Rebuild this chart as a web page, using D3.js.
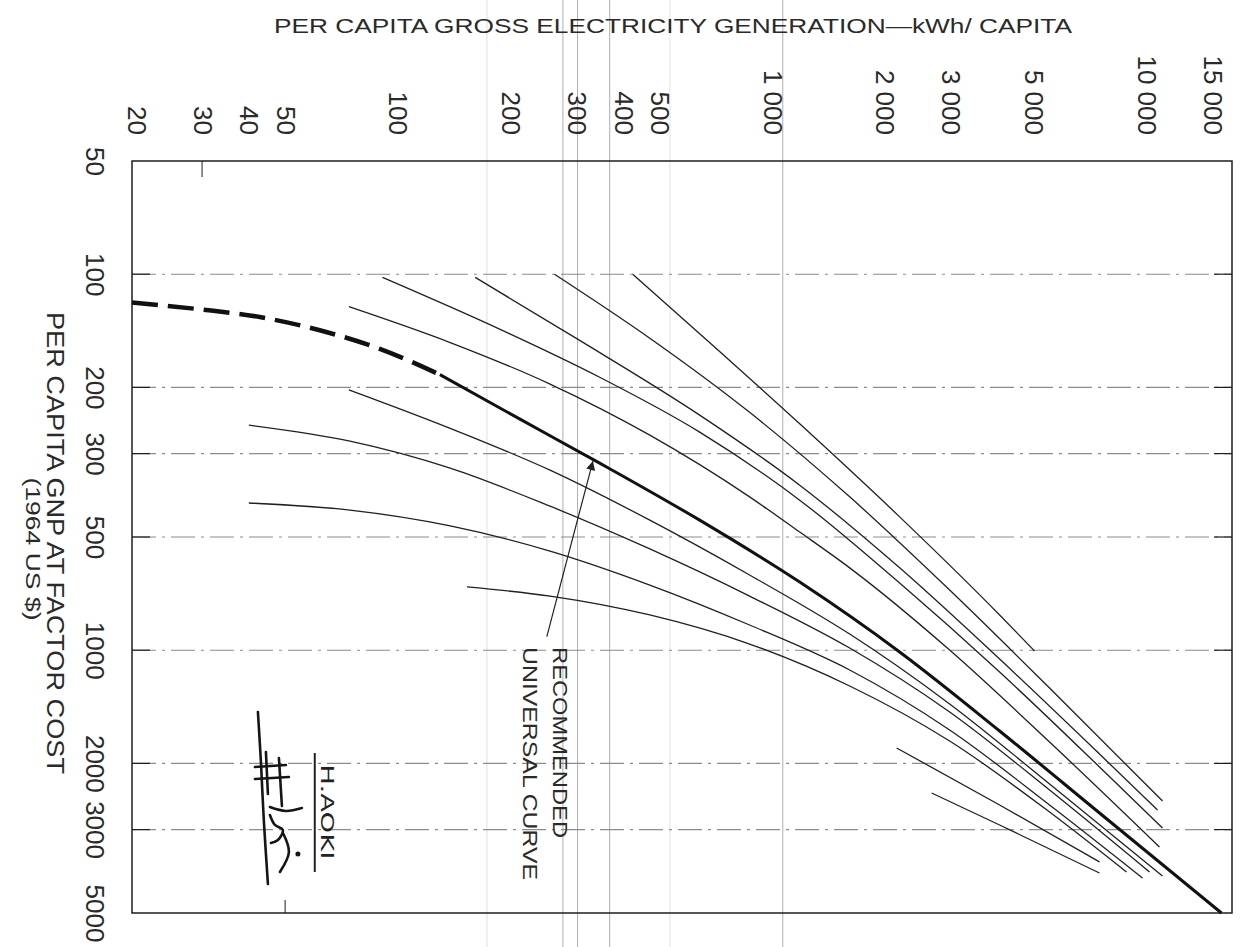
<!DOCTYPE html>
<html>
<head>
<meta charset="utf-8">
<script src="https://cdn.jsdelivr.net/npm/d3@7"></script>
<style>
  body { margin: 0; background: #fff; }
  svg { display: block; font-family: "Liberation Sans", Arial, sans-serif; }
</style>
</head>
<body>
<svg id="chart" width="1251" height="947"></svg>
<script>

// --- axis values ---
var ELEC_EXTENT = [19.5, 16900]
var GNP_EXTENT = [50, 5000]
var ELEC_TICKS = [20, 30, 40, 50, 100, 200, 300, 400, 500, 1000, 2000, 3000, 5000, 10000, 15000]
var ELEC_LABELS = ["20", "30", "40", "50", "100", "200", "300", "400", "500", "1 000", "2 000", "3 000", "5 000", "10 000", "15 000"]
var GNP_TICKS = [50, 100, 200, 300, 500, 1000, 2000, 3000, 5000]
var GNP_LABELS = ["50", "100", "200", "300", "500", "1000", "2000", "3000", "5000"]
var GNP_GRID = [100, 200, 300, 500, 1000, 2000, 3000]
var TOP_TICKS = [30]
var BOTTOM_TICKS = [50]
// faint vertical lines left by the copier, in kWh/capita
var SCAN_LINES = [173, 276, 302, 368, 533, 1067]

// --- curves: [kWh per capita, GNP per capita] ---
var curveA = [[424, 100], [640, 144], [1184, 250], [2189, 442], [4048, 806], [5019, 1005]]
var curveB = [[262, 100], [471, 148], [870, 233], [1610, 391], [2977, 692], [5504, 1261], [11021, 2518]]
var curveC = [[161, 102], [306, 150], [640, 237], [1184, 364], [2189, 604], [4048, 1056], [7483, 1889], [10690, 2660]]
var curveD = [[91, 102], [187, 140], [346, 188], [640, 263], [1184, 399], [2189, 663], [4048, 1143], [7483, 2045], [11021, 2971]]
var curveE = [[74, 122], [138, 152], [255, 196], [471, 268], [870, 391], [1184, 485], [1610, 604], [2977, 999], [5504, 1755], [10821, 3338]]
var curveF = [[74, 203], [138, 257], [255, 332], [471, 451], [870, 631], [1610, 906], [2977, 1390], [5504, 2269], [11021, 3986]]
var curveG = [[40, 252], [74.5, 278], [138, 328], [255, 414], [471, 538], [870, 718], [1610, 987], [2977, 1460], [5504, 2355], [10177, 3890]]
var curveH = [[40, 406], [74.5, 424], [138, 467], [255, 545], [471, 671], [870, 857], [1610, 1129], [2977, 1630], [5504, 2580], [9748, 4035]]
var curveI = [[153, 679], [255, 718], [471, 806], [870, 963], [1610, 1245], [2977, 1744], [5504, 2694], [8837, 3890]]
var curveJ = [[2149, 1820], [4048, 2580], [7483, 3658]]
var curveK = [[2665, 2398], [4048, 2917], [7483, 3914]]

// recommended universal curve (dashed where extrapolated)
var universalDashed = [[19.5, 119], [29.6, 124], [42.8, 130], [61.9, 141], [89.5, 158], [129.5, 185]]
var universalSolid = [[129.5, 185], [212, 243], [346, 318], [640, 451], [1184, 659], [2189, 1011], [4048, 1640], [7483, 2710], [15840, 5000]]

// annotation anchors
var ARROW_FROM = [250, 920]
var ARROW_TO = [332, 314]
var NOTE_LINES = [
  {text: "RECOMMENDED", at: [271, 981], len: 191},
  {text: "UNIVERSAL CURVE", at: [225, 981], len: 233}
]
var SIGNER = {text: "H.AOKI", at: [65, 2690], rule: [[60, 1877], [60, 3890]]}
var SIGNATURE_AT = [42.3, 1460]

var THIN_CURVES = [curveA, curveB, curveC, curveD, curveE, curveF, curveG, curveH, curveI, curveJ, curveK]

var svg = d3.select("#chart")
var W = 1251, H = 947

var x = d3.scaleLog().domain(ELEC_EXTENT).range([132, 1232])
var y = d3.scaleLog().domain(GNP_EXTENT).range([161, 913])

var INK = "#1e1e1e"
var LETTER = "#2a2a2a"

svg.append("rect").attr("width", W).attr("height", H).attr("fill", "#fff")

// copier lines run across the whole sheet
svg.append("g").selectAll("line")
  .data(SCAN_LINES)
  .enter().append("line")
  .attr("x1", function(d) { return x(d) })
  .attr("x2", function(d) { return x(d) })
  .attr("y1", 0)
  .attr("y2", H)
  .attr("stroke", "#9a9a9a")
  .attr("stroke-opacity", function(d, i) { return (i == 0 || i == 4) ? 0.3 : 0.8 })
  .attr("stroke-width", 1)

// dash-dot grid
var grid = svg.append("g")
grid.selectAll(".grid")
  .data(GNP_GRID)
  .enter().append("line")
  .attr("class", "grid")
  .attr("x1", x.range()[0])
  .attr("x2", x.range()[1])
  .attr("y1", function(d) { return y(d) })
  .attr("y2", function(d) { return y(d) })
  .attr("stroke", "#8c8c8c")
  .attr("stroke-width", 1.1)
  .attr("stroke-dasharray", "24,6,3,6")

// short solid ticks at each side of the frame
var TICK = 18
grid.selectAll(".tickL")
  .data(GNP_GRID)
  .enter().append("line")
  .attr("x1", x.range()[0]).attr("x2", x.range()[0] + TICK)
  .attr("y1", function(d) { return y(d) }).attr("y2", function(d) { return y(d) })
  .attr("stroke", INK).attr("stroke-width", 1.2)
grid.selectAll(".tickR")
  .data(GNP_GRID)
  .enter().append("line")
  .attr("x1", x.range()[1] - TICK).attr("x2", x.range()[1])
  .attr("y1", function(d) { return y(d) }).attr("y2", function(d) { return y(d) })
  .attr("stroke", INK).attr("stroke-width", 1.2)
grid.selectAll(".tickT")
  .data(TOP_TICKS)
  .enter().append("line")
  .attr("x1", function(d) { return x(d) }).attr("x2", function(d) { return x(d) })
  .attr("y1", y.range()[0]).attr("y2", y.range()[0] + 16)
  .attr("stroke", INK).attr("stroke-width", 1)
grid.selectAll(".tickB")
  .data(BOTTOM_TICKS)
  .enter().append("line")
  .attr("x1", function(d) { return x(d) }).attr("x2", function(d) { return x(d) })
  .attr("y1", y.range()[1]).attr("y2", y.range()[1] - 13)
  .attr("stroke", INK).attr("stroke-width", 1)

// frame
svg.append("rect")
  .attr("x", x.range()[0])
  .attr("y", y.range()[0])
  .attr("width", x.range()[1] - x.range()[0])
  .attr("height", y.range()[1] - y.range()[0])
  .attr("fill", "none")
  .attr("stroke", INK)
  .attr("stroke-width", 1.5)

// top axis: labels turned a quarter clockwise, like the sheet
var topAxis = svg.append("g")
  .attr("transform", "translate(0,135)")
  .call(d3.axisTop(x).tickValues(ELEC_TICKS)
    .tickFormat(function(d, i) { return ELEC_LABELS[i] }).tickSize(0))
topAxis.select(".domain").remove()
topAxis.selectAll("text")
  .attr("x", 0).attr("y", 0).attr("dy", null)
  .attr("transform", "rotate(90)")
  .attr("text-anchor", "end")
  .attr("dominant-baseline", "central")
  .attr("font-family", "Liberation Sans, Arial, sans-serif")
  .attr("font-size", 26)
  .attr("fill", LETTER)

var leftAxis = svg.append("g")
  .attr("transform", "translate(95,0)")
  .call(d3.axisLeft(y).tickValues(GNP_TICKS)
    .tickFormat(function(d, i) { return GNP_LABELS[i] }).tickSize(0))
leftAxis.select(".domain").remove()
leftAxis.selectAll("text")
  .attr("x", 0).attr("y", 0).attr("dy", null)
  .attr("transform", "rotate(90)")
  .attr("text-anchor", "middle")
  .attr("dominant-baseline", "central")
  .attr("font-family", "Liberation Sans, Arial, sans-serif")
  .attr("font-size", 26)
  .attr("fill", LETTER)

// titles
svg.append("text")
  .attr("x", 673).attr("y", 33)
  .attr("text-anchor", "middle")
  .attr("font-size", 21)
  .attr("textLength", 798)
  .attr("lengthAdjust", "spacingAndGlyphs")
  .attr("fill", LETTER)
  .text("PER CAPITA GROSS ELECTRICITY GENERATION\u2014kWh/ CAPITA")

svg.append("text")
  .attr("transform", "translate(55,543) rotate(90)")
  .attr("text-anchor", "middle")
  .attr("dominant-baseline", "central")
  .attr("font-size", 23)
  .attr("textLength", 462)
  .attr("lengthAdjust", "spacingAndGlyphs")
  .attr("fill", LETTER)
  .text("PER CAPITA GNP AT FACTOR COST")

svg.append("text")
  .attr("transform", "translate(33,549) rotate(90)")
  .attr("text-anchor", "middle")
  .attr("dominant-baseline", "central")
  .attr("font-size", 20)
  .attr("textLength", 143)
  .attr("lengthAdjust", "spacingAndGlyphs")
  .attr("fill", LETTER)
  .text("(1964 US $)")

// curves
var line = d3.line()
  .x(function(d) { return x(d[0]) })
  .y(function(d) { return y(d[1]) })
  .curve(d3.curveMonotoneX)

svg.append("g").selectAll("path")
  .data(THIN_CURVES)
  .enter().append("path")
  .attr("d", line)
  .attr("fill", "none")
  .attr("stroke", "#202020")
  .attr("stroke-width", 1.3)

svg.append("path")
  .attr("d", line(universalDashed))
  .attr("fill", "none")
  .attr("stroke", "#111")
  .attr("stroke-width", 4.5)
  .attr("stroke-dasharray", "26,10")

svg.append("path")
  .attr("d", line(universalSolid))
  .attr("fill", "none")
  .attr("stroke", "#111")
  .attr("stroke-width", 3)

// arrow to the universal curve
svg.append("defs").append("marker")
  .attr("id", "head")
  .attr("viewBox", "0 0 10 10")
  .attr("refX", 10).attr("refY", 5)
  .attr("markerWidth", 16).attr("markerHeight", 9)
  .attr("markerUnits", "userSpaceOnUse")
  .attr("orient", "auto")
  .append("path")
  .attr("d", "M0,0 L10,5 L0,10 Z")
  .attr("fill", "#222")

svg.append("line")
  .attr("x1", x(ARROW_FROM[0])).attr("y1", y(ARROW_FROM[1]))
  .attr("x2", x(ARROW_TO[0])).attr("y2", y(ARROW_TO[1]))
  .attr("stroke", "#222")
  .attr("stroke-width", 1.2)
  .attr("marker-end", "url(#head)")

svg.append("g").selectAll("text")
  .data(NOTE_LINES)
  .enter().append("text")
  .attr("transform", function(d) {
    return "translate(" + x(d.at[0]) + "," + y(d.at[1]) + ") rotate(90)"
  })
  .attr("text-anchor", "start")
  .attr("dominant-baseline", "central")
  .attr("font-size", 20)
  .attr("textLength", function(d) { return d.len })
  .attr("lengthAdjust", "spacingAndGlyphs")
  .attr("fill", LETTER)
  .text(function(d) { return d.text })

// signature block
svg.append("text")
  .attr("transform", "translate(" + x(SIGNER.at[0]) + "," + y(SIGNER.at[1]) + ") rotate(90)")
  .attr("text-anchor", "middle")
  .attr("dominant-baseline", "central")
  .attr("font-family", "DejaVu Sans, sans-serif")
  .attr("font-size", 18)
  .attr("textLength", 95)
  .attr("lengthAdjust", "spacingAndGlyphs")
  .attr("fill", "#222")
  .text(SIGNER.text)

svg.append("line")
  .attr("x1", x(SIGNER.rule[0][0])).attr("y1", y(SIGNER.rule[0][1]))
  .attr("x2", x(SIGNER.rule[1][0])).attr("y2", y(SIGNER.rule[1][1]))
  .attr("stroke", "#222").attr("stroke-width", 2)

// hand-written initials, drawn as rough pen strokes around an anchor
var strokes = [
  [[0, 0], [3, 50], [6, 110], [10, 172]],
  [[-3, 55], [28, 53]],
  [[-3, 67], [31, 65]],
  [[8, 40], [10, 82]],
  [[21, 46], [24, 94]],
  [[12, 95], [28, 99], [44, 96]],
  [[12, 103], [17, 113], [25, 118], [20, 128], [13, 131]],
  [[25, 121], [31, 140], [22, 160]]
]
var sx = x(SIGNATURE_AT[0]), sy = y(SIGNATURE_AT[1])
var pen = d3.line().curve(d3.curveCatmullRom)
svg.append("g")
  .attr("transform", "translate(" + sx + "," + sy + ")")
  .selectAll("path")
  .data(strokes)
  .enter().append("path")
  .attr("d", pen)
  .attr("fill", "none")
  .attr("stroke", "#151515")
  .attr("stroke-width", 2.6)
  .attr("stroke-linecap", "round")
svg.append("circle")
  .attr("cx", sx + 40).attr("cy", sy + 142).attr("r", 2.5)
  .attr("fill", "#151515")

</script>
</body>
</html>
